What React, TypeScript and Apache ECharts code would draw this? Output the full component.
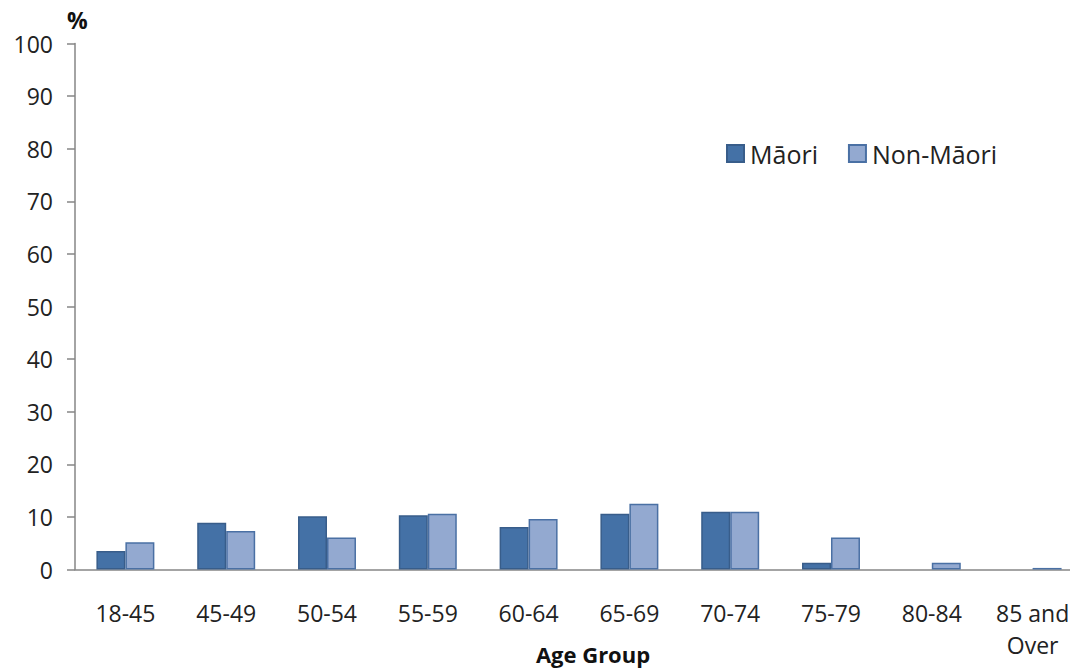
import React, { useEffect, useRef } from "react";
import * as echarts from "echarts";

const categories = ["18-45", "45-49", "50-54", "55-59", "60-64", "65-69", "70-74", "75-79", "80-84", "85 and\nOver"];
// null = no bar drawn for that group
const maori = [3.5, 8.9, 10.1, 10.3, 8.1, 10.6, 11.0, 1.3, null, null];
const nonMaori = [5.2, 7.3, 6.1, 10.6, 9.6, 12.5, 11.0, 6.1, 1.3, 0.3];
const yTicks = [0, 10, 20, 30, 40, 50, 60, 70, 80, 90, 100];

const FONT = "'Open Sans', 'Noto Sans', sans-serif";

export default function App() {
  const ref = useRef<HTMLDivElement>(null);

  useEffect(() => {
    if (!ref.current) return;
    const chart = echarts.init(ref.current, undefined, { renderer: "svg" });
    chart.setOption({
      animation: false,
      backgroundColor: "#ffffff",
      textStyle: { fontFamily: FONT, color: "#222" },
      grid: {
        left: 75,
        top: 43.5,
        height: 526,
        width: 1008,
        containLabel: false,
        outerBoundsMode: "none",
      },
      legend: {
        left: 721,
        top: 136,
        icon: "rect",
        itemWidth: 17,
        itemHeight: 17,
        itemGap: 30,
        textStyle: { fontFamily: FONT, fontSize: 25, color: "#222", padding: [0, 0, 0, 1] },
        data: ["Māori", "Non-Māori"],
      },
      graphic: [
        {
          type: "text",
          left: 67,
          top: 8,
          style: { text: "%", font: `bold 23px ${FONT}`, fill: "#111" },
        },
        {
          type: "text",
          x: 593,
          y: 643,
          style: {
            text: "Age Group",
            font: `bold 22px ${FONT}`,
            fill: "#111",
            align: "center",
            verticalAlign: "top",
          },
        },
      ],
      xAxis: {
        type: "category",
        data: categories,
        axisLine: { lineStyle: { color: "#868686", width: 1.5 } },
        axisTick: { length: 10, lineStyle: { color: "#868686", width: 1.5 } },
        axisLabel: {
          fontFamily: FONT,
          fontSize: 23,
          color: "#222",
          margin: 27,
          lineHeight: 32,
          interval: 0,
        },
      },
      yAxis: {
        type: "value",
        min: 0,
        max: 100,
        interval: 10,
        splitLine: { show: false },
        axisLine: { show: true, lineStyle: { color: "#868686", width: 1.5 } },
        axisTick: { show: true, length: 8, lineStyle: { color: "#868686", width: 1.5 } },
        axisLabel: {
          fontFamily: FONT,
          fontSize: 23,
          color: "#222",
          margin: 22,
          formatter: (v: number) => (yTicks.includes(v) ? String(v) : ""),
        },
      },
      series: [
        {
          name: "Māori",
          type: "bar",
          data: maori,
          barGap: "0%",
          barCategoryGap: "42.5%",
          itemStyle: { color: "#4471a6", borderColor: "#385d8a", borderWidth: 1.5 },
        },
        {
          name: "Non-Māori",
          type: "bar",
          data: nonMaori,
          itemStyle: { color: "#93a9d0", borderColor: "#4a70a4", borderWidth: 1.5 },
        },
      ],
    });
    return () => chart.dispose();
  }, []);

  return <div ref={ref} style={{ width: 1070, height: 669, position: "absolute", left: 0, top: 0 }} />;
}
